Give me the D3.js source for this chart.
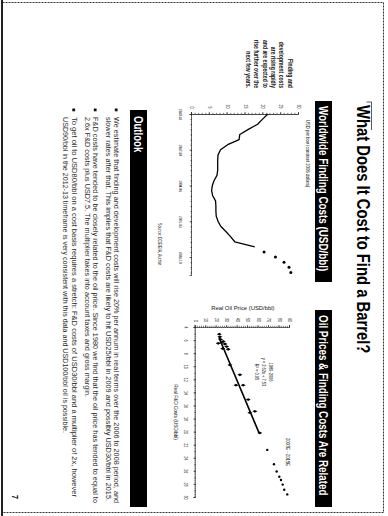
<!DOCTYPE html>
<html>
<head>
<meta charset="utf-8">
<script src="https://cdn.jsdelivr.net/npm/d3@7"></script>
<style>
  html, body { margin: 0; padding: 0; background: #fff; }
  svg { display: block; font-family: "Liberation Sans", Arial, Helvetica, sans-serif; }
</style>
</head>
<body>
<svg id="page" width="388" height="516"></svg>
<script>
// ---------- Worldwide finding costs (USD per boe, constant 2006 dollars) ----------
const costYears = [1981, 1982, 1983, 1984, 1985, 1986, 1987, 1988, 1989, 1990, 1991, 1992, 1993, 1994,
                   1995, 1996, 1997, 1998, 1999, 2000, 2001, 2002, 2003, 2004, 2005, 2006, 2007];
const costValues = [21.3, 19.8, 18.4, 15.8, 13.4, 13.2, 10.0, 8.0, 7.3, 7.2, 7.2, 7.2, 7.0, 6.2,
                    5.7, 5.5, 5.8, 6.6, 6.7, 6.7, 6.8, 7.3, 8.1, 9.5, 10.8, 12.0, 17.6];
const costEstYears = [2008, 2009, 2010, 2011, 2012];
const costEstValues = [20.2, 23.4, 25.8, 27.2, 27.7];
const costTickYears = [1981, 1988, 1995, 2002, 2009];
const costTickLabels = ["1980-82", "1987-89", "1994-96", "2001-03", "2008-10"];
const costYTicks = [0, 5, 10, 15, 20, 25, 30];

// ---------- Real oil price vs real F&D costs ----------
const histFD  = [5.1, 5.5, 5.9, 6.5, 6.4, 6.2, 6.6, 7.0, 7.4, 7.3, 9.8, 11.3, 12.9, 12.9, 15.1, 17.1, 16.9, 20.2];
const histOil = [22.5, 23.1, 23.8, 21.5, 24.7, 26.3, 27.9, 29.5, 31.0, 25.7, 32.7, 42.2, 38.4, 45.3, 50.1, 51.7, 56.5, 61.2];
const estFD  = [22.8, 25.0, 26.1, 26.9, 27.4, 28.1, 28.9, 29.6];
const estOil = [68.3, 74.7, 77.3, 79.8, 81.4, 83.0, 84.5, 87.4];
const fitSlope = 2.62;
const fitIntercept = 7.53;
const fitFDRange = [5.6, 20.2];
const oilTicks = [0, 10, 20, 30, 40, 50, 60, 70, 80, 90];
const fdTicks = [4, 6, 8, 10, 12, 14, 16, 18, 20, 22, 24, 26, 28, 30];

// ---------- Page text ----------
const pageTitle = "What Does It Cost to Find a Barrel?";
const leftHeader = "Worldwide Finding Costs (USD/bbl)";
const rightHeader = "Oil Prices & Finding Costs Are Related";
const leftUnits = "USD per boe (constant 2006 dollars)";
const sourceNote = "Source: DOE/EIA, Author";
const sideNote = ["Finding and", "development costs", "are rising rapidly", "and are expected to",
                  "rise further over the", "next few years."];
const fitLabel = ["1980-2006", "y = 2.62x + 7.53", "R\u00b2 = 0.95"];
const estLabel = "2007E - 2015E";
const oilAxisTitle = "Real Oil Price (USD/bbl)";
const fdAxisTitle = "Real F&D Costs (USD/bbl)";
const outlookTitle = "Outlook";
const outlookBullets = [
  ["We estimate that finding and development costs will rise 20% per annum in real terms over the 2006 to 2008 period, and",
   "slower rates after that. This implies that F&D costs are likely to hit USD25/bbl in 2009 and possibly USD30/bbl in 2015."],
  ["F&D costs have tended to be closely related to the oil price. Since 1980 we find that the oil price has tended to equal to",
   "2.6x F&D costs plus USD7.5. The multiplier takes into account taxes and gross margin."],
  ["To get oil to USD80/bbl on a cost basis requires a stretch: F&D costs of USD30/bbl and a multiplier of 2x, however",
   "USD90/bbl in the 2012-13 timeframe is very consistent with this data and USD100/bbl oil is possible."]
];
const pageNumber = "7";

// ---------- Drawing ----------
const SX = 0.8;                       // horizontal glyph compression of the page typeface
const INK = "#141414";
const svg = d3.select("#page");
svg.append("rect").attr("width", 388).attr("height", 516).attr("fill", "#fff");

// The page is laid out landscape (516 x 388) and turned a quarter turn clockwise.
const page = svg.append("g").attr("transform", "translate(388,0) rotate(90)");

function label(parent, x, y, str, size, opts = {}) {
  const t = parent.append("text")
    .attr("transform", `translate(${x},${y}) scale(${SX},1)`)
    .attr("font-size", size)
    .attr("text-anchor", opts.anchor || "start")
    .attr("fill", opts.fill || INK)
    .text(str);
  if (opts.bold) t.attr("font-weight", "bold");
  if (opts.width) t.attr("textLength", opts.width / SX).attr("lengthAdjust", "spacingAndGlyphs");
  return t;
}

// page frame: dotted edges, solid binding edge
page.append("rect")
  .attr("x", 2.5).attr("y", 4.5).attr("width", 510).attr("height", 381)
  .attr("fill", "none").attr("stroke", "#333").attr("stroke-width", 1)
  .attr("stroke-dasharray", "2,1");
page.append("line").attr("x1", 0).attr("x2", 516).attr("y1", 386).attr("y2", 386)
  .attr("stroke", "#222").attr("stroke-width", 2);

// corner rule at the start of the title
page.append("path").attr("d", "M102,21.5V16.5H130").attr("fill", "none")
  .attr("stroke", "#333").attr("stroke-width", 0.8);

// title
label(page, 105, 31, pageTitle, 18.5, { bold: true, fill: "#000" });

// section headers
page.append("rect").attr("x", 101).attr("y", 56).attr("width", 181).attr("height", 17).attr("fill", "#000");
label(page, 106, 68.6, leftHeader, 12.3, { bold: true, fill: "#fff" });
page.append("rect").attr("x", 310).attr("y", 56).attr("width", 197).attr("height", 17).attr("fill", "#000");
label(page, 315, 68.6, rightHeader, 12.3, { bold: true, fill: "#fff" });

// side note
sideNote.forEach((s, i) => label(page, 88, 100.5 + i * 8.3, s, 6.4, { bold: true, anchor: "end" }));

function styleAxis(g) {
  g.select(".domain").attr("stroke", "#222").attr("stroke-width", 0.8).attr("stroke-dasharray", "1.2,0.8");
  g.selectAll(".tick line").attr("stroke", "#222").attr("stroke-width", 0.6);
}

// ---------- left chart: finding costs over time ----------
const gL = page.append("g");
const xL = d3.scaleLinear().domain([1981, 2012.5]).range([114, 275]);
const yL = d3.scaleLinear().domain([0, 30]).range([196, 89]);

label(gL, 120, 81.6, leftUnits, 5.2);

const xLMinor = gL.append("g").attr("transform", `translate(0,${yL(0)})`)
  .call(d3.axisBottom(xL).tickValues(d3.range(1981, 2013)).tickSize(1.6).tickFormat(""));
styleAxis(xLMinor);
const xLAxis = gL.append("g").attr("transform", `translate(0,${yL(0)})`)
  .call(d3.axisBottom(xL).tickValues(costTickYears).tickSize(2.4).tickPadding(8)
    .tickFormat((d, i) => costTickLabels[i]));
styleAxis(xLAxis);
xLAxis.selectAll(".tick text").attr("font-size", 4).attr("fill", INK).attr("transform", `scale(${SX},1)`);

const yLMinor = gL.append("g").attr("transform", `translate(${xL(1981)},0)`)
  .call(d3.axisLeft(yL).tickValues(d3.range(0, 31)).tickSize(1.2).tickFormat(""));
styleAxis(yLMinor);
const yLAxis = gL.append("g").attr("transform", `translate(${xL(1981)},0)`)
  .call(d3.axisLeft(yL).tickValues(costYTicks).tickSize(2).tickPadding(3.6));
styleAxis(yLAxis);
yLAxis.selectAll(".tick text").attr("font-size", 4.5).attr("fill", INK)
  .attr("x", -5.6 / SX).attr("transform", `scale(${SX},1)`);

const costSeries = costYears.map((y, i) => ({ year: y, value: costValues[i] }));
gL.append("path").datum(costSeries)
  .attr("fill", "none").attr("stroke", "#000").attr("stroke-width", 1.3).attr("stroke-linejoin", "round")
  .attr("d", d3.line().x(d => xL(d.year)).y(d => yL(d.value)));

gL.selectAll("circle.est").data(costEstYears.map((y, i) => ({ year: y, value: costEstValues[i] })))
  .join("circle").attr("class", "est")
  .attr("cx", d => xL(d.year)).attr("cy", d => yL(d.value)).attr("r", 1.5).attr("fill", "#000");

label(gL, 244, 229.6, sourceNote, 4.7, { anchor: "middle" });

// ---------- right chart: oil price vs F&D cost ----------
const gR = page.append("g");
const xR = d3.scaleLinear().domain([4, 30]).range([327, 497]);
const yR = d3.scaleLinear().domain([0, 90]).range([192.3, 98]);

const xRMinor = gR.append("g").attr("transform", `translate(0,${yR(0)})`)
  .call(d3.axisBottom(xR).tickValues(d3.range(4, 30.5, 1)).tickSize(1.4).tickFormat(""));
styleAxis(xRMinor);
const xRAxis = gR.append("g").attr("transform", `translate(0,${yR(0)})`)
  .call(d3.axisBottom(xR).tickValues(fdTicks).tickSize(2.2).tickPadding(6));
styleAxis(xRAxis);
xRAxis.selectAll(".tick text").attr("font-size", 4.5).attr("fill", INK).attr("transform", `scale(${SX},1)`);

const yRMinor = gR.append("g").attr("transform", `translate(${xR(4)},0)`)
  .call(d3.axisLeft(yR).tickValues(d3.range(0, 91, 2)).tickSize(1.2).tickFormat(""));
styleAxis(yRMinor);
const yRAxis = gR.append("g").attr("transform", `translate(${xR(4)},0)`)
  .call(d3.axisLeft(yR).tickValues(oilTicks).tickSize(2).tickPadding(3));
styleAxis(yRAxis);
yRAxis.selectAll(".tick text").attr("font-size", 4.5).attr("fill", INK)
  .attr("x", -5 / SX).attr("transform", `scale(${SX},1)`);

// axis titles
gR.append("text")
  .attr("transform", `translate(310,${(yR(0) + yR(90)) / 2}) rotate(-90) scale(1,${SX})`)
  .attr("font-size", 5.9).attr("text-anchor", "middle").attr("fill", INK).text(oilAxisTitle);
label(gR, (xR(4) + xR(30)) / 2, 213.6, fdAxisTitle, 5.9, { anchor: "middle" });

// fitted line
gR.append("line")
  .attr("x1", xR(fitFDRange[0])).attr("y1", yR(fitSlope * fitFDRange[0] + fitIntercept))
  .attr("x2", xR(fitFDRange[1])).attr("y2", yR(fitSlope * fitFDRange[1] + fitIntercept))
  .attr("stroke", "#000").attr("stroke-width", 1.6);

// historical points (diamonds)
const diamond = d3.symbol().type(d3.symbolDiamond).size(7);
gR.selectAll("path.hist").data(histFD.map((x, i) => ({ fd: x, oil: histOil[i] })))
  .join("path").attr("class", "hist")
  .attr("transform", d => `translate(${xR(d.fd)},${yR(d.oil)})`)
  .attr("d", diamond).attr("fill", "#000");

// estimates
gR.selectAll("circle.est").data(estFD.map((x, i) => ({ fd: x, oil: estOil[i] })))
  .join("circle").attr("class", "est")
  .attr("cx", d => xR(d.fd)).attr("cy", d => yR(d.oil)).attr("r", 1.2).attr("fill", "#000");

fitLabel.forEach((s, i) => label(gR, 372, 119 + i * 7, s, 5, { anchor: "middle" }));
label(gR, 452, 101.8, estLabel, 5.3, { anchor: "middle" });

// ---------- outlook ----------
page.append("rect").attr("x", 110).attr("y", 241).attr("width", 397).attr("height", 17).attr("fill", "#000");
label(page, 116, 253.6, outlookTitle, 12, { bold: true, fill: "#fff" });

const lineEnds = [[503, 501], [503, 397], [497, 433]];
const bulletTops = [274, 295, 316.5];
outlookBullets.forEach((lines, b) => {
  page.append("rect").attr("x", 108.5).attr("y", bulletTops[b] - 3.6).attr("width", 2.8).attr("height", 2.8)
    .attr("fill", "#111");
  lines.forEach((s, j) => {
    label(page, 117, bulletTops[b] + j * 8.4, s, 7, { fill: "#2a2a2a", width: lineEnds[b][j] - 117 });
  });
});

// page number
label(page, 497, 376, pageNumber, 9, { bold: true, anchor: "middle", fill: "#000" });
</script>
</body>
</html>
